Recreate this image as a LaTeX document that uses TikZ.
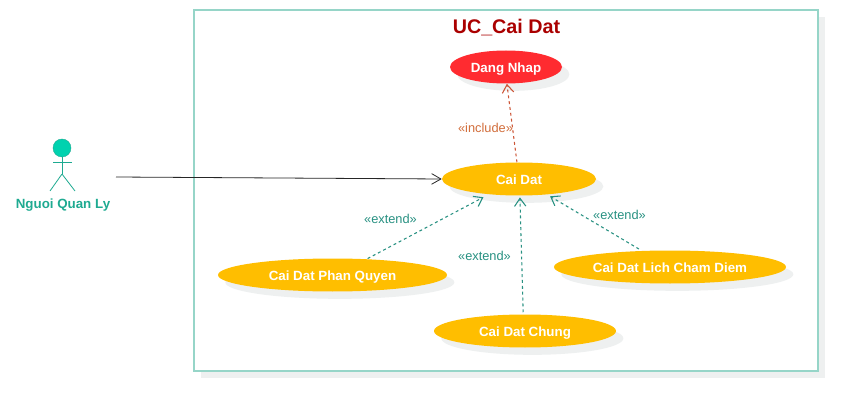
\documentclass[tikz,border=0pt]{standalone}
\usepackage{fontspec}
\setmainfont{Liberation Sans}
\usetikzlibrary{arrows.meta,shadows,shapes.geometric}
\definecolor{ucframe}{RGB}{150,213,200}
\definecolor{ucshadow}{RGB}{238,240,240}
\definecolor{uctitle}{RGB}{170,0,0}
\definecolor{ucamber}{RGB}{255,190,0}
\definecolor{ucred}{RGB}{255,43,48}
\definecolor{ucactor}{RGB}{0,210,175}
\definecolor{ucactorline}{RGB}{30,170,145}
\definecolor{ucextend}{RGB}{40,145,130}
\definecolor{ucinclude}{RGB}{205,85,55}
\definecolor{uclabel}{RGB}{210,110,60}
\tikzset{
  usecase/.style={ellipse, fill=ucamber, inner sep=0pt, minimum height=33*0.75pt,
    text=white, font=\fontsize{10}{11}\bfseries, text height=8.5pt, text depth=0pt,
    general shadow={shadow xshift=5.5pt, shadow yshift=-5.5pt, fill=ucshadow}},
  dep/.style={dash pattern=on 2.2pt off 2.2pt, line width=0.8pt, -{Straight Barb[length=6pt,width=8.5pt]}},
  deplabel/.style={font=\fontsize{9.6}{11}\selectfont, text=ucextend}
}
\begin{document}
\begin{tikzpicture}[x=0.75pt,y=-0.75pt]
\useasboundingbox (0,0) rectangle (858,410);
% System frame
\fill[ucshadow] (201,17) rectangle (825,378);
\draw[ucframe, line width=1.5pt, fill=white] (194,10) rectangle (818,371);
\node[font=\fontsize{14.8}{18}\bfseries, text=uctitle] (title) at (506.5,27.5) {UC\_Cai Dat};
% Use cases
\node[usecase, fill=ucred, minimum width=112*0.75pt] (dangnhap) at (506,67) {Dang Nhap};
\node[usecase, minimum width=154*0.75pt] (caidat) at (519,179) {Cai Dat};
\node[usecase, minimum width=229*0.75pt] (phanquyen) at (332.5,275) {Cai Dat Phan Quyen};
\node[usecase, minimum width=182*0.75pt] (chung) at (525,331) {Cai Dat Chung};
\node[usecase, minimum width=232*0.75pt] (lichcham) at (670,267) {Cai Dat Lich Cham Diem};
% Actor stick figure
\node[circle, draw=ucactorline, fill=ucactor, line width=0.3pt, minimum size=18*0.75pt, inner sep=0pt] (actorhead) at (62,148) {};
\draw[ucactorline, line width=0.6pt] (actorhead.south) -- (62,174);
\draw[ucactorline, line width=0.6pt] (53,162.5) -- (72,162.5);
\draw[ucactorline, line width=0.6pt] (62,174) -- (50,191);
\draw[ucactorline, line width=0.6pt] (62,174) -- (75,191);
\node[font=\fontsize{10}{11}\bfseries, text=ucactorline] (actorname) at (63,205.5) {Nguoi Quan Ly};
% Actor to use case
\coordinate (actorout) at (116,177);
\draw[line width=0.6pt, black!85, -{Straight Barb[length=7pt,width=8pt]}] (actorout) -- (caidat.west);
% Include
\draw[dep, ucinclude] (caidat.97) -- (dangnhap.273);
\node[deplabel, text=uclabel] (includelabel) at (485.5,128) {«include»};
% Extends
\draw[dep, ucextend, shorten <=0.7pt, shorten >=4.5pt] (phanquyen.25) -- (caidat.207);
\draw[dep, ucextend, shorten <=1.5pt, shorten >=1.2pt] (chung.96) -- (caidat.273);
\draw[dep, ucextend, shorten <=2.5pt, shorten >=2.5pt] (lichcham.150) -- (caidat.331);
\node[deplabel] (extendleft) at (390.5,219) {«extend»};
\node[deplabel] (extendmid) at (484.5,256) {«extend»};
\node[deplabel] (extendright) at (619.5,215) {«extend»};
\end{tikzpicture}
\end{document}
